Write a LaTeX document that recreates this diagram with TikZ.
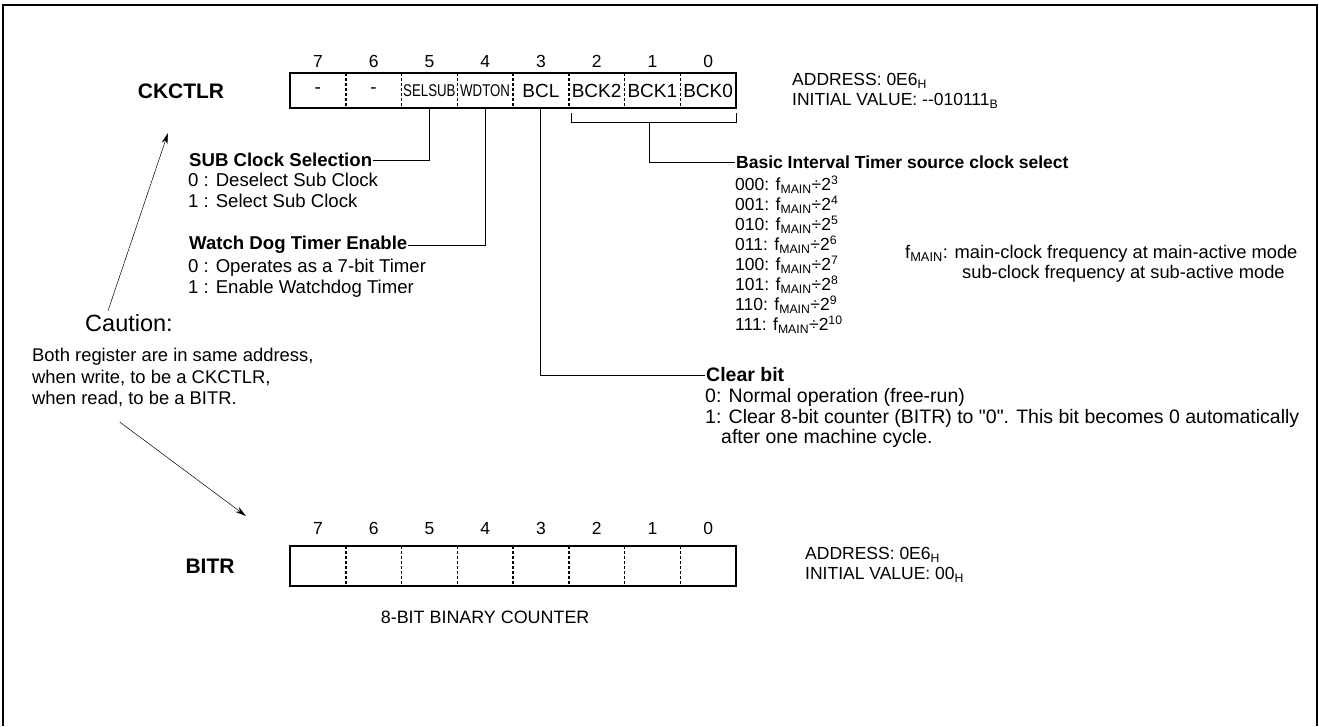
\documentclass[tikz,border=0pt]{standalone}
\usepackage{fontspec}
\setmainfont{Liberation Sans}[Ligatures=TeXOff]
\newfontfamily\narrowfont{Liberation Sans}[Ligatures=TeXOff, FakeStretch=0.78]
\usetikzlibrary{positioning, arrows.meta, calc}

\newcommand{\bodyfont}{\fontsize{17.5}{20}\selectfont}
\newcommand{\leftfont}{\fontsize{18.6}{21}\selectfont}
\newcommand{\lblfont}{\fontsize{21}{24}\selectfont\bfseries}
\newcommand{\lo}[1]{\textsubscript{#1}}
\newcommand{\hi}[1]{\textsuperscript{#1}}
\newcommand{\fmain}{f\lo{MAIN}}

\begin{document}
\begin{tikzpicture}[
    x=1pt, y=-1pt,
    >={Stealth[length=11pt, width=6pt]},
    cell/.style={minimum width=55.75pt, minimum height=35pt, inner sep=0pt, outer sep=0pt, font=\fontsize{19}{19}\selectfont},
    tiny/.style={font=\narrowfont\fontsize{17}{17}\selectfont},
    bitno/.style={font=\bodyfont, inner sep=0pt},
    regname/.style={font=\lblfont},
    title/.style={font=\bodyfont\bfseries, inner sep=1pt, anchor=west},
    body/.style={font=\bodyfont, inner sep=0pt, anchor=north west, align=left},
    frame/.style={line width=1.6pt},
    border/.style={line width=2.6pt},
    divider/.style={line width=1.5pt, dash pattern=on 3pt off 2pt},
    link/.style={line width=0.9pt},
    note/.style={line width=0.5pt, ->}
]
\useasboundingbox (0,0) rectangle (1319,726);
\draw[frame] (3,726) -- (3,5) -- (1317,5) -- (1317,726);

% --- CKCTLR ---
\node[regname] (ckname) at (181,91) {CKCTLR};
\node[cell] (c7) at (317.875,90.5) {-};
\node[cell, right=0pt of c7] (c6) {-};
\node[cell, tiny, right=0pt of c6] (c5) {SELSUB};
\node[cell, tiny, right=0pt of c5] (c4) {WDTON};
\node[cell, right=0pt of c4] (c3) {BCL};
\node[cell, right=0pt of c3] (c2) {BCK2};
\node[cell, right=0pt of c2] (c1) {BCK1};
\node[cell, right=0pt of c1] (c0) {BCK0};
\foreach \i in {0,...,7} \node[bitno, above=5pt of c\i] (n\i) {\i};
\foreach \i in {1,...,7} \draw[divider] (c\i.north east) -- (c\i.south east);
\draw[border] (c7.north west) rectangle (c0.south east);

\node[body] (ckaddr) at (792,73.5) {ADDRESS: 0E6\lo{H}\\INITIAL VALUE: --010111\lo{B}};

% --- bit descriptions ---
\node[title, font=\leftfont\bfseries] (sub) at (188,160) {SUB Clock Selection};
\node[body, font=\leftfont] (subtxt) at (188,173) {0 : Deselect Sub Clock\\1 : Select Sub Clock};
\node[title, font=\leftfont\bfseries] (wdt) at (188,245) {Watch Dog Timer Enable};
\node[body, font=\leftfont] (wdttxt) at (188,259) {0 : Operates as a 7-bit Timer\\1 : Enable Watchdog Timer};

\node[title] (bit) at (735,162) {Basic Interval Timer source clock select};
\node[body] (bittxt) at (735,175.5) {%
  000: \fmain÷2\hi{3}\\001: \fmain÷2\hi{4}\\010: \fmain÷2\hi{5}\\011: \fmain÷2\hi{6}\\%
  100: \fmain÷2\hi{7}\\101: \fmain÷2\hi{8}\\110: \fmain÷2\hi{9}\\111: \fmain÷2\hi{10}};
\node[body, font=\fontsize{18.3}{20}\selectfont] (fnote) at (905,245) {\fmain: main-clock frequency at main-active mode\\\hspace*{57pt}sub-clock frequency at sub-active mode};

\node[title, font=\fontsize{19.5}{20.5}\selectfont\bfseries] (clr) at (705,375) {Clear bit};
\node[body, font=\fontsize{19.5}{20.5}\selectfont] (clrtxt) at (705,388.5) {0: Normal operation (free-run)\\1: Clear 8-bit counter (BITR) to "0". This bit becomes 0 automatically\\\hspace*{16pt}after one machine cycle.};

% --- links ---
\draw[link] (c5.south) |- (sub.east);
\draw[link] (c4.south) |- (wdt.east);
\draw[link] (c3.south) |- (clr.west);
\coordinate (brl) at ($(c2.south west)+(3,5)$);
\coordinate (brr) at ($(c0.south east)+(0,5)$);
\coordinate (brm) at ($(brl)!0.47!(brr)+(0,9)$);
\draw[link] (brl) -- ++(0,9) -| (brr);
\draw[link] (brm) |- (bit.west);

% --- caution ---
\node[font=\fontsize{23.5}{26}\selectfont] (caution) at (129,323) {Caution:};
\node[body, font=\fontsize{18.4}{21.5}\selectfont] (both) at (32,348) {Both register are in same address,\\when write, to be a CKCTLR,\\when read, to be a BITR.};
\coordinate (ckup) at (168,133);
\coordinate (bitrin) at (246,516);
\draw[note] ([xshift=-21pt]caution.north) -- (ckup);
\draw[note] ([xshift=-53pt, yshift=-15pt]both.south) -- (bitrin);

% --- BITR ---
\node[regname] (bitrname) at (210,566) {BITR};
\node[cell, minimum height=40pt] (b7) at (317.875,566) {};
\node[cell, minimum height=40pt, right=0pt of b7] (b6) {};
\node[cell, minimum height=40pt, right=0pt of b6] (b5) {};
\node[cell, minimum height=40pt, right=0pt of b5] (b4) {};
\node[cell, minimum height=40pt, right=0pt of b4] (b3) {};
\node[cell, minimum height=40pt, right=0pt of b3] (b2) {};
\node[cell, minimum height=40pt, right=0pt of b2] (b1) {};
\node[cell, minimum height=40pt, right=0pt of b1] (b0) {};
\foreach \i in {0,...,7} \node[bitno, above=11pt of b\i] (m\i) {\i};
\foreach \i in {1,...,7} \draw[divider] (b\i.north east) -- (b\i.south east);
\draw[border] (b7.north west) rectangle (b0.south east);
\node[font=\fontsize{17.9}{20}\selectfont, below=21pt of b4.south] (cnt) {8-BIT BINARY COUNTER};

\node[body] (bitraddr) at (805,547) {ADDRESS: 0E6\lo{H}\\INITIAL VALUE: 00\lo{H}};
\end{tikzpicture}
\end{document}
